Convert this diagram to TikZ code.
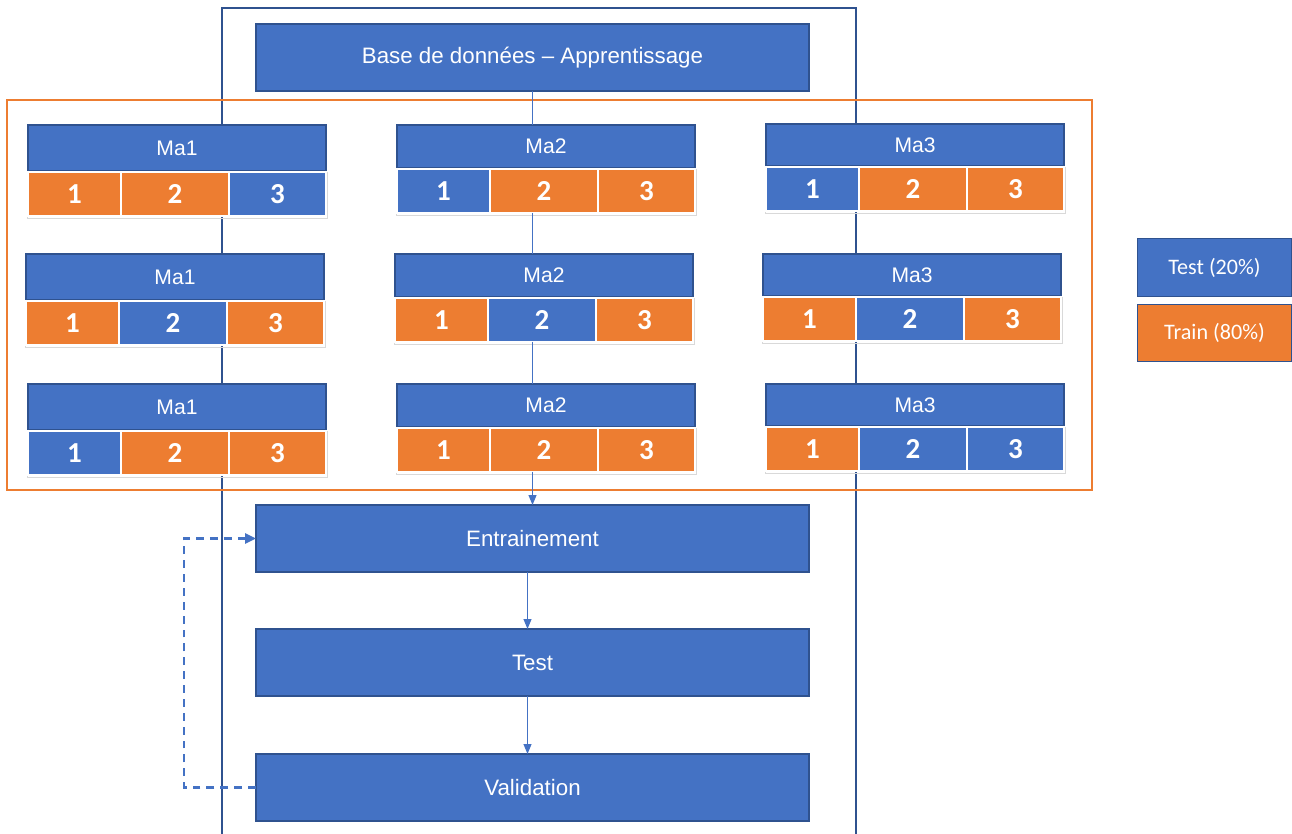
\documentclass[tikz,border=0pt]{standalone}
\usepackage{fontspec}
\setmainfont{Liberation Sans}
\newfontfamily\calibri{Carlito}
\usepackage{tikz}
\usetikzlibrary{arrows.meta, positioning, calc}
\usepackage{xcolor}
\definecolor{boxblue}{RGB}{68,114,196}
\definecolor{boxorange}{RGB}{237,125,49}
\definecolor{edgeblue}{RGB}{47,82,143}
\definecolor{cellgray}{RGB}{217,217,217}

\begin{document}
\begin{tikzpicture}[x=0.02cm, y=-0.02cm,
  stage/.style={draw=edgeblue, fill=boxblue, text=white, line width=0.6pt, inner sep=0pt, outer sep=0pt, anchor=north west, minimum width=553*0.02cm, minimum height=67*0.02cm, font=\fontsize{12.7}{15}\selectfont},
  head/.style={draw=edgeblue, fill=boxblue, text=white, line width=0.6pt, inner sep=0pt, outer sep=0pt, anchor=north west, minimum width=298*0.02cm, font=\fontsize{12}{14}\selectfont},
  cell/.style={draw=white, line width=0.8pt, inner sep=0pt, outer sep=0pt, anchor=north west, minimum height=44*0.02cm, text=white, font=\calibri\bfseries\fontsize{16.5}{18}\selectfont},
  legend/.style={draw=edgeblue, text=white, line width=0.6pt, inner sep=0pt, anchor=north west, minimum width=154*0.02cm, font=\calibri\fontsize{12.6}{15}\selectfont},
  link/.style={boxblue, line width=0.6pt},
  tip/.style={-{Triangle[length=0.2cm, width=0.16cm]}}]
  \useasboundingbox (0,0) rectangle (1292,834);
  % frames
  \draw[edgeblue, line width=0.9pt] (222,834) -- (222,8) -- (856,8) -- (856,834);
  \draw[boxorange, line width=1.1pt] (7,100) rectangle (1092,490);
  % stages
  \node[stage] (base) at (256,24) {Base de données -- Apprentissage};
  \node[stage] (ent) at (256,505) {Entrainement};
  \node[stage] (test) at (256,629) {Test};
  \node[stage] (valid) at (256,754) {Validation};
  % folds
  \foreach \bx/\by/\hh/\nm/\lab/\ca/\cb/\cc in {
      28/125/46/11/Ma1/boxorange/boxorange/boxblue,
      397/125/43/21/Ma2/boxblue/boxorange/boxorange,
      766/124/42/31/Ma3/boxblue/boxorange/boxorange,
      26/254/46/12/Ma1/boxorange/boxblue/boxorange,
      395/254/43/22/Ma2/boxorange/boxblue/boxorange,
      763/254/42/32/Ma3/boxorange/boxblue/boxorange,
      28/384/46/13/Ma1/boxblue/boxorange/boxorange,
      397/384/43/23/Ma2/boxorange/boxorange/boxorange,
      766/384/42/33/Ma3/boxorange/boxblue/boxblue} {
    \node[head, minimum height=\hh*0.02cm] (h\nm) at (\bx,\by) {\lab};
    \draw[cellgray, line width=0.5pt] (\bx-1,\by+\hh+1) rectangle (\bx+299,\by+\hh+47);
    \node[cell, fill=\ca, minimum width=93*0.02cm] (c\nm a) at (\bx,\by+\hh+1) {1};
    \node[cell, fill=\cb, minimum width=108*0.02cm] (c\nm b) at (\bx+93,\by+\hh+1) {2};
    \node[cell, fill=\cc, minimum width=97*0.02cm] (c\nm c) at (\bx+201,\by+\hh+1) {3};
  }
  % legend
  \node[legend, fill=boxblue, minimum height=58*0.02cm] (ltest) at (1137,238) {Test (20\%)};
  \node[legend, fill=boxorange, minimum height=57*0.02cm] (ltrain) at (1137,304) {Train (80\%)};
  % links
  \draw[link] (base.south) -- (base.south |- h21.north);
  \draw[link] (base.south |- c21b.south) -- (base.south |- h22.north);
  \draw[link] (base.south |- c22b.south) -- (base.south |- h23.north);
  \draw[link, tip] (c23b.south -| ent.north) -- (ent.north);
  \draw[link, tip] ([xshift=-0.1cm]ent.south) -- ([xshift=-0.1cm]test.north);
  \draw[link, tip] ([xshift=-0.1cm]test.south) -- ([xshift=-0.1cm]valid.north);
  % retour
  \draw[boxblue, line width=1.5pt, dash pattern=on 4.5pt off 3.4pt, -{Triangle[length=0.22cm, width=0.2cm]}] (valid.west) -- ++(-72,0) |- (ent.west);
\end{tikzpicture}
\end{document}
